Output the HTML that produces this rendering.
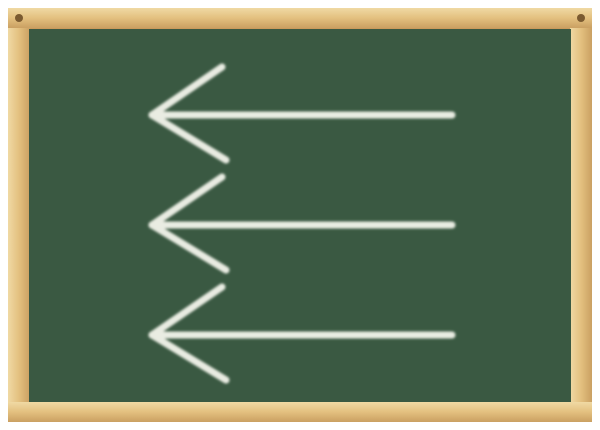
<!DOCTYPE html>
<html><head><meta charset="utf-8"><style>
html,body{margin:0;padding:0;background:#fff;}
svg{display:block}
</style></head><body>
<svg width="600" height="430" viewBox="0 0 600 430">
<defs>
<linearGradient id="wh" x1="0" y1="0" x2="0" y2="1">
<stop offset="0" stop-color="#f0d9a4"/><stop offset="0.5" stop-color="#e3c07f"/><stop offset="1" stop-color="#caa062"/>
</linearGradient>
<linearGradient id="wv" x1="0" y1="0" x2="1" y2="0">
<stop offset="0" stop-color="#f0d9a4"/><stop offset="0.5" stop-color="#e3c07f"/><stop offset="1" stop-color="#caa062"/>
</linearGradient>
<filter id="chalk" x="-10%" y="-10%" width="120%" height="120%">
<feGaussianBlur stdDeviation="1.2"/>
</filter>
</defs>
<g>
<rect x="8" y="8" width="584" height="414" fill="#c99a5c"/>
<rect x="8" y="26" width="22" height="380" fill="url(#wv)"/>
<rect x="570" y="26" width="22" height="380" fill="url(#wv)"/>
<rect x="8" y="8" width="584" height="20" fill="url(#wh)"/>
<rect x="8" y="402" width="584" height="20" fill="url(#wh)"/>
<circle cx="19" cy="18" r="4" fill="#7a5a30"/>
<circle cx="581" cy="18" r="4" fill="#7a5a30"/>
</g>
<rect x="29" y="29" width="542" height="373" fill="#3a5942"/>
<g stroke="#e9ece2" stroke-width="7" stroke-linecap="round" fill="none" filter="url(#chalk)">
<g>
<line x1="152" y1="115" x2="452" y2="115"/><line x1="152" y1="115" x2="222" y2="67"/><line x1="152" y1="115" x2="226" y2="160"/>
</g>
<g>
<line x1="152" y1="225" x2="452" y2="225"/><line x1="152" y1="225" x2="222" y2="177"/><line x1="152" y1="225" x2="226" y2="270"/>
</g>
<g>
<line x1="152" y1="335" x2="452" y2="335"/><line x1="152" y1="335" x2="222" y2="287"/><line x1="152" y1="335" x2="226" y2="380"/>
</g>
</g>
</svg>
</body></html>
